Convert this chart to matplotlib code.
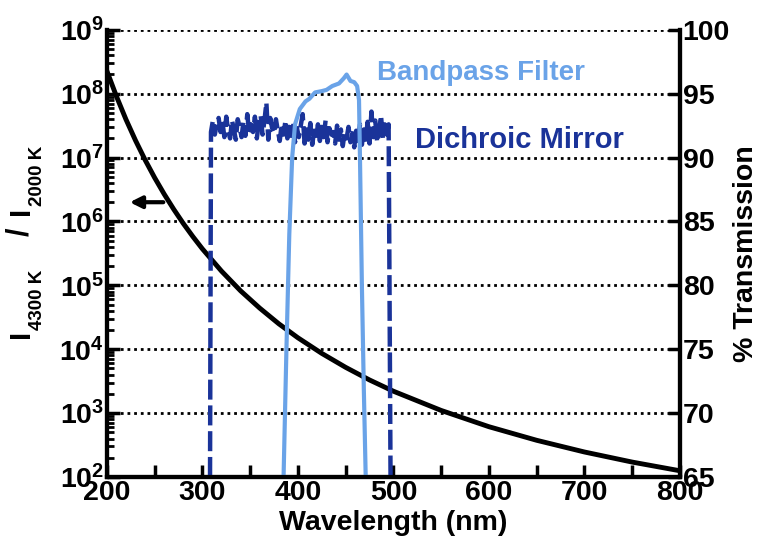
import matplotlib
matplotlib.use('Agg')
import matplotlib.pyplot as plt
from matplotlib.ticker import MultipleLocator, LogLocator, NullFormatter

plt.rcParams['font.family'] = ['Liberation Sans', 'DejaVu Sans']
plt.rcParams['font.weight'] = 'bold'
plt.rcParams['mathtext.fontset'] = 'custom'
plt.rcParams['mathtext.rm'] = 'Liberation Sans:bold'
plt.rcParams['mathtext.it'] = 'Liberation Sans:bold'
plt.rcParams['mathtext.bf'] = 'Liberation Sans:bold'
plt.rcParams['mathtext.default'] = 'bf'

# intensity ratio I(4300 K) / I(2000 K)
ratio_wl = [200, 210, 220, 230, 240, 250, 260, 270, 280, 290, 300, 320, 340,
            360, 380, 400, 425, 450, 475, 500, 550, 600, 650, 700, 750, 800]
ratio = [2.27e8, 9.1e7, 3.95e7, 1.85e7, 9.2e6, 4.84e6, 2.68e6, 1.55e6, 9.3e5,
         5.8e5, 3.72e5, 1.67e5, 8.2e4, 4.4e4, 2.5e4, 1.51e4, 8.6e3, 5.2e3,
         3.3e3, 2.2e3, 1.1e3, 612, 375, 246, 171, 125]

# bandpass filter transmission (%)
bp_wl = [385, 388, 391, 394, 397, 402, 408, 412, 418, 425, 430, 436, 443,
         448, 451, 455, 459, 462, 464, 465, 467, 469, 471]
bp_T = [65, 75, 84, 90, 92.6, 93.8, 94.4, 94.6, 95.1, 95.2, 95.3, 95.6, 95.8,
        96.2, 96.5, 96.0, 95.9, 95.6, 94.5, 90, 80, 72, 65]

# dichroic mirror transmission (%)
dm_wl = [308, 309, 311, 313, 315, 317, 319, 321, 323, 325, 327, 329, 331, 333,
         335, 337, 339, 341, 343, 345, 347, 349, 351, 353, 355, 357, 359, 361,
         363, 365, 367, 369, 371, 373, 375, 377, 379, 381, 383, 385, 387, 389,
         391, 393, 395, 397, 399, 401, 403, 405, 407, 409, 411, 413, 415, 417,
         419, 421, 423, 425, 427, 429, 431, 433, 435, 437, 439, 441, 443, 445,
         447, 449, 451, 453, 455, 457, 459, 461, 463, 465, 467, 469, 471, 473,
         475, 477, 479, 481, 483, 485, 487, 489, 491, 493, 495, 497]
dm_T = [65, 92.0, 92.9, 91.8, 92.6, 93.1, 92.0, 92.8, 91.6, 93.2, 92.1, 91.5,
        92.9, 92.2, 91.4, 93.0, 92.4, 91.6, 92.8, 91.7, 93.4, 91.9, 92.6, 92.0,
        93.2, 91.5, 92.7, 93.3, 91.8, 92.9, 94.3, 91.4, 93.1, 92.3, 91.9, 93.0,
        92.1, 91.3, 92.6, 91.8, 92.9, 91.5, 92.4, 91.7, 92.8, 91.2, 92.3, 91.6,
        92.5, 93.4, 91.1, 92.2, 91.4, 92.7, 91.0, 92.1, 91.5, 92.6, 91.3, 92.4,
        91.6, 92.9, 91.2, 92.3, 91.8, 92.0, 91.1, 92.5, 91.4, 92.2, 90.9, 92.0,
        91.5, 92.4, 91.2, 91.9, 90.8, 92.1, 91.3, 92.6, 91.0, 92.2, 91.4, 92.8,
        91.1, 93.6, 91.6, 92.9, 91.2, 92.0, 93.3, 91.5, 92.6, 91.8, 92.6, 65]

W, H = 758, 542
fig = plt.figure(figsize=(W / 100, H / 100), dpi=100)
ax = fig.add_axes([0.141, 0.120, 0.756, 0.825])
ax2 = ax.twinx()

ax.plot(ratio_wl, ratio, color='black', lw=3.5, zorder=3)
ax.set_yscale('log')
ax.set_xlim(200, 800)
ax.set_ylim(1e2, 1e9)
ax.xaxis.set_major_locator(MultipleLocator(100))
ax.xaxis.set_minor_locator(MultipleLocator(50))
ax.yaxis.set_major_locator(LogLocator(base=10, numticks=20))
ax.yaxis.set_minor_locator(LogLocator(base=10, subs=range(2, 10), numticks=20))
ax.yaxis.set_minor_formatter(NullFormatter())
ax.grid(axis='y', which='major', color='black', ls=(0, (1, 1.4)), lw=2)
ax.tick_params(axis='both', which='major', direction='in', length=9, width=2.5,
               labelsize=20.5, pad=2)
ax.tick_params(axis='both', which='minor', direction='in', length=5, width=2)
ax.tick_params(axis='x', which='minor', length=9, width=2.5)
ax.set_xlabel('Wavelength (nm)', fontsize=20.5, fontweight='bold', labelpad=3)

# left axis label I_4300K / I_2000K, built from pieces (pixel positions)
def px_text(x, y, s, size):
    fig.text(x / W, 1 - y / H, s, fontsize=size, fontweight='bold',
             rotation=90, ha='center', va='center')

px_text(21, 334, 'I', 21)
px_text(37, 300, '4300 K', 13.5)
px_text(20, 232, '/', 22)
px_text(21, 211, 'I', 21)
px_text(37, 176, '2000 K', 13.5)

ax.annotate('', xy=(221, 2.0e6), xytext=(262, 2.0e6),
            arrowprops=dict(arrowstyle='-|>,head_length=0.7,head_width=0.35',
                            color='black', lw=3))

ax2.plot(dm_wl, dm_T, color='#1a3399', lw=3.2, ls=(0, (4.5, 1.3)))
ax2.plot(bp_wl, bp_T, color='#6aa3e8', lw=3)
ax2.set_ylim(65, 100)
ax2.yaxis.set_major_locator(MultipleLocator(5))
ax2.tick_params(axis='y', direction='in', length=9, width=2.5, labelsize=20.5, pad=2)
ax2.set_ylabel('% Transmission', fontsize=20.5, fontweight='bold', labelpad=2)
ax2.text(592, 96.6, 'Bandpass Filter', color='#6aa3e8', fontsize=20,
         fontweight='bold', ha='center', va='center')
ax2.text(632, 91.4, 'Dichroic Mirror', color='#1a3399', fontsize=21,
         fontweight='bold', ha='center', va='center')

for a in (ax, ax2):
    a.spines['top'].set_visible(False)
    for s in ('left', 'right', 'bottom'):
        a.spines[s].set_linewidth(3)

fig.savefig('out.png', dpi=100)
